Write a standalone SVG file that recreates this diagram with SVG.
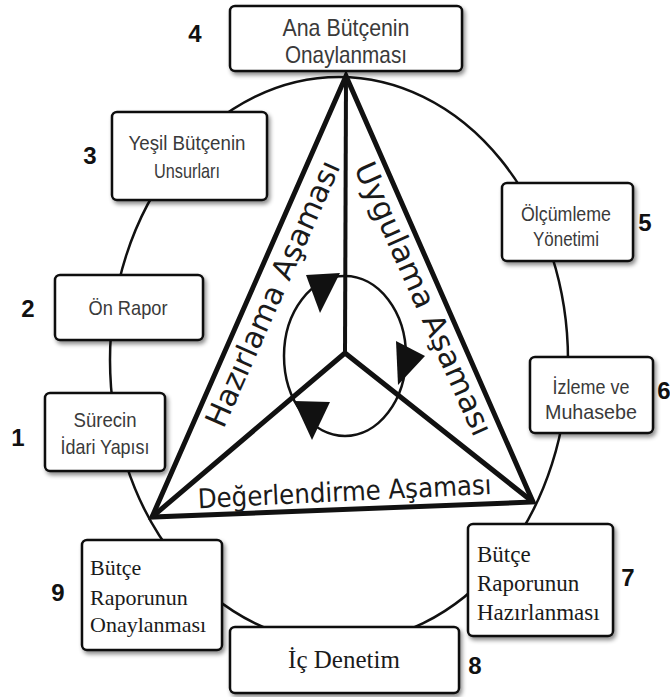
<svg xmlns="http://www.w3.org/2000/svg" width="670" height="697" viewBox="0 0 670 697">
<defs>
<style>
.box{fill:#fff;stroke:#111;stroke-width:2.5;filter:url(#sh)}
.sans{font-family:"Liberation Sans",Arial,sans-serif;font-size:21px;fill:#3a3a3a;text-anchor:middle}
.big{font-size:24px}
.serif{font-family:"Liberation Serif","Times New Roman",serif;font-size:23px;fill:#1a1a1a}
.num{font-family:"Liberation Sans",Arial,sans-serif;font-weight:bold;font-size:24px;fill:#111;text-anchor:middle}
.phase{font-family:"DejaVu Sans",Verdana,sans-serif;font-size:30px;fill:#1a1a1a;text-anchor:middle}
.thin{fill:none;stroke:#111;stroke-width:2.5}
.thick{fill:none;stroke:#111;stroke-width:5;stroke-linejoin:miter}
.head{fill:#111}
</style>
<filter id="sh" x="-10%" y="-10%" width="125%" height="130%">
<feDropShadow dx="2" dy="3" stdDeviation="2" flood-color="#000" flood-opacity="0.45"/>
</filter>
</defs>
<rect width="670" height="697" fill="#fff"/>
<g id="connectors">
<ellipse class="thin" cx="339" cy="360" rx="229" ry="283"/>
<path class="thick" d="M346,76 L152,517 L533,502 Z"/>
<path class="thick" d="M345,353 L152,517 M345,353 L533,502"/>
<path class="thick" style="stroke-width:4" d="M346,76 L345,353"/>
<ellipse class="thin" cx="345" cy="356" rx="61" ry="80"/>
<polygon class="head" points="306,275 340,273 320,313"/>
<polygon class="head" points="396,341 398,385 425,356"/>
<polygon class="head" points="294,401 330,402 312,440"/>
</g>
<g id="phase-labels">
<text class="phase" transform="translate(282,298) rotate(-66)" textLength="288" lengthAdjust="spacingAndGlyphs">Hazırlama Aşaması</text>
<text class="phase" transform="translate(414,303) rotate(66)" textLength="296" lengthAdjust="spacingAndGlyphs">Uygulama Aşaması</text>
<text class="phase" style="font-size:27px" transform="translate(345,501) rotate(-2.8)" textLength="294" lengthAdjust="spacingAndGlyphs">Değerlendirme Aşaması</text>
</g>
<g id="node-1">
<rect class="box" x="45" y="393" width="120" height="78" rx="5"/>
<text class="sans" x="105" y="427" textLength="63" lengthAdjust="spacingAndGlyphs">Sürecin</text>
<text class="sans" x="105" y="454" textLength="89" lengthAdjust="spacingAndGlyphs">İdari Yapısı</text>
<text class="num" x="18" y="446">1</text>
</g>
<g id="node-2">
<rect class="box" x="55" y="275" width="148" height="65" rx="5"/>
<text class="sans" x="128" y="315" textLength="79" lengthAdjust="spacingAndGlyphs">Ön Rapor</text>
<text class="num" x="28" y="317">2</text>
</g>
<g id="node-3">
<rect class="box" x="112" y="112" width="155" height="88" rx="5"/>
<text class="sans" x="187" y="150" textLength="117" lengthAdjust="spacingAndGlyphs">Yeşil Bütçenin</text>
<text class="sans" x="187" y="178" textLength="66" lengthAdjust="spacingAndGlyphs">Unsurları</text>
<text class="num" x="90" y="164">3</text>
</g>
<g id="node-4">
<rect class="box" x="230" y="6" width="232" height="65" rx="5"/>
<text class="sans big" x="346" y="36" textLength="127" lengthAdjust="spacingAndGlyphs">Ana Bütçenin</text>
<text class="sans big" x="346" y="63" textLength="122" lengthAdjust="spacingAndGlyphs">Onaylanması</text>
<text class="num" x="195" y="42">4</text>
</g>
<g id="node-5">
<rect class="box" x="502" y="183" width="131" height="78" rx="5"/>
<text class="sans" x="566" y="221" textLength="90" lengthAdjust="spacingAndGlyphs">Ölçümleme</text>
<text class="sans" x="566" y="246" textLength="66" lengthAdjust="spacingAndGlyphs">Yönetimi</text>
<text class="num" x="645" y="231">5</text>
</g>
<g id="node-6">
<rect class="box" x="530" y="357" width="123" height="76" rx="5"/>
<text class="sans" x="591" y="394" textLength="77" lengthAdjust="spacingAndGlyphs">İzleme ve</text>
<text class="sans" x="591" y="419" textLength="92" lengthAdjust="spacingAndGlyphs">Muhasebe</text>
<text class="num" x="664" y="399">6</text>
</g>
<g id="node-7">
<rect class="box" x="468" y="524" width="145" height="112" rx="5"/>
<text class="serif" x="477" y="562">Bütçe</text>
<text class="serif" x="477" y="591">Raporunun</text>
<text class="serif" x="477" y="620">Hazırlanması</text>
<text class="num" x="628" y="586">7</text>
</g>
<g id="node-8">
<rect class="box" x="230" y="627" width="229" height="66" rx="5"/>
<text class="serif" style="font-size:25px;text-anchor:middle" x="344" y="668">İç Denetim</text>
<text class="num" x="475" y="674">8</text>
</g>
<g id="node-9">
<rect class="box" x="82" y="540" width="140" height="110" rx="5"/>
<text class="serif" style="font-size:22px" x="90" y="575">Bütçe</text>
<text class="serif" style="font-size:22px" x="90" y="605">Raporunun</text>
<text class="serif" style="font-size:22px" x="90" y="632">Onaylanması</text>
<text class="num" x="58" y="601">9</text>
</g>
</svg>
